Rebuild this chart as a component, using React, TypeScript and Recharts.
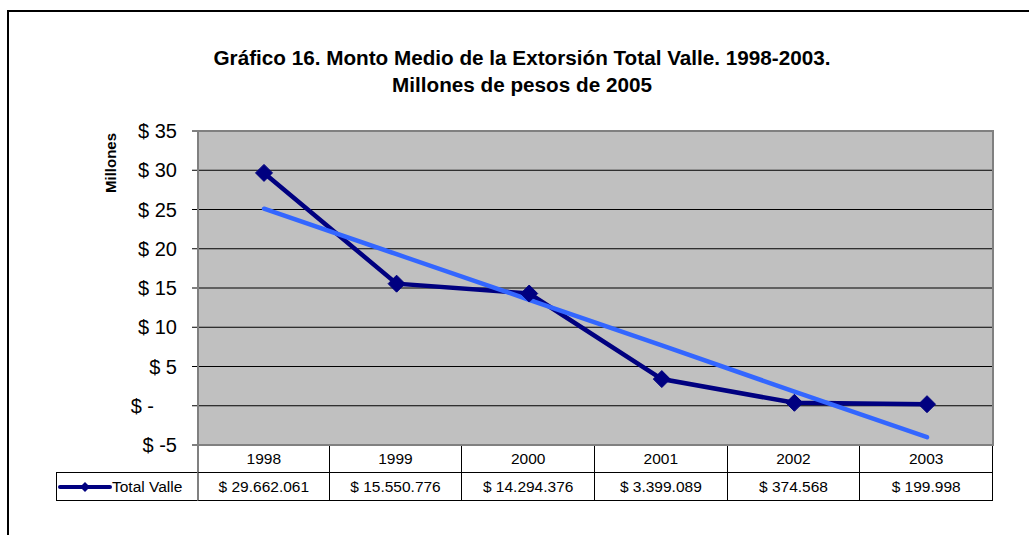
import { CartesianGrid, Line, LineChart, XAxis, YAxis } from "recharts";

const FONT = "Arial, 'Liberation Sans', Helvetica, sans-serif";

const years = ["1998", "1999", "2000", "2001", "2002", "2003"];
const totalValle = [29.662061, 15.550776, 14.294376, 3.399089, 0.374568, 0.199998];
const trendValle = [25.1, 19.3, 13.5, 7.7, 1.8, -4.0];
const tableValues = ["$ 29.662.061", "$ 15.550.776", "$ 14.294.376", "$ 3.399.089", "$ 374.568", "$ 199.998"];
const yTicks = [-5, 0, 5, 10, 15, 20, 25, 30, 35];

const data = years.map((year, i) => ({ year, total: totalValle[i], trend: trendValle[i] }));

const NAVY = "#000080";
const TREND = "#3366FF";

function Diamond(props: any) {
  const { cx, cy } = props;
  if (cx == null || cy == null) return null;
  const r = 8.5;
  return (
    <polygon
      points={`${cx},${cy - r} ${cx + r},${cy} ${cx},${cy + r} ${cx - r},${cy}`}
      fill={NAVY}
      stroke={NAVY}
      strokeWidth={1}
    />
  );
}

function MoneyTick(props: any) {
  const { x, y, payload } = props;
  const v = payload.value;
  // accounting format: zero shows as a dash padded by two digit widths
  const label = v === 0 ? "$ -" : `$ ${v}`;
  return (
    <text x={v === 0 ? x - 23 : x} y={y} dy={7} textAnchor="end" fontSize={20} fill="#000" fontFamily={FONT}>
      {label}
    </text>
  );
}

const cellBase: React.CSSProperties = {
  boxSizing: "border-box",
  display: "flex",
  alignItems: "center",
  justifyContent: "center",
  fontSize: 15.5,
  color: "#000",
};

function DataTable() {
  return (
    <div
      style={{
        position: "absolute",
        left: 56,
        top: 446,
        width: 937,
        display: "grid",
        gridTemplateColumns: "141px repeat(6, 1fr)",
        gridTemplateRows: "27px 28px",
        fontFamily: FONT,
      }}
    >
      <div />
      {years.map((y, i) => (
        <div
          key={y}
          style={{
            ...cellBase,
            borderBottom: "1px solid #000",
            borderRight: "1px solid #000",
            borderLeft: i === 0 ? "2px solid #808080" : undefined,
          }}
        >
          {y}
        </div>
      ))}
      <div
        style={{
          ...cellBase,
          justifyContent: "flex-start",
          borderLeft: "1px solid #000",
          borderBottom: "1px solid #000",
          borderTop: "1px solid #000",
          marginTop: -1,
          paddingLeft: 1,
        }}
      >
        <svg width={54} height={12} style={{ flex: "none" }}>
          <line x1={2} y1={6} x2={52} y2={6} stroke={NAVY} strokeWidth={4} strokeLinecap="round" />
          <polygon points="27,1 32,6 27,11 22,6" fill={NAVY} />
        </svg>
        <span>Total Valle</span>
      </div>
      {tableValues.map((v, i) => (
        <div
          key={v}
          style={{
            ...cellBase,
            borderBottom: "1px solid #000",
            borderRight: "1px solid #000",
            borderLeft: i === 0 ? "2px solid #808080" : undefined,
          }}
        >
          {v}
        </div>
      ))}
    </div>
  );
}

export default function App() {
  return (
    <div
      style={{
        position: "fixed",
        left: 0,
        top: 0,
        width: 1029,
        height: 535,
        overflow: "hidden",
        background: "#fff",
        fontFamily: FONT,
      }}
    >
      <div
        style={{
          position: "absolute",
          left: 7,
          top: 10,
          width: 1100,
          height: 600,
          border: "2px solid #000",
          boxSizing: "border-box",
        }}
      />
      <div style={{ position: "absolute", left: 0, top: 0 }}>
        <LineChart width={1029} height={535} data={data} margin={{ top: 131, right: 36, bottom: 90, left: 0 }}>
          <CartesianGrid vertical={false} stroke="#000" strokeOpacity={1} fill="#C0C0C0" fillOpacity={1} />
          <XAxis dataKey="year" hide padding={{ left: 66, right: 66 }} />
          <YAxis
            width={198}
            domain={[-5, 35]}
            ticks={yTicks}
            interval={0}
            axisLine={{ stroke: "#808080", strokeWidth: 2 }}
            tickLine={{ stroke: "#000" }}
            tickSize={6}
            tickMargin={15}
            tick={<MoneyTick />}
          />
          <Line
            dataKey="total"
            stroke={NAVY}
            strokeWidth={4.5}
            dot={<Diamond />}
            activeDot={false}
            isAnimationActive={false}
          />
          <Line
            dataKey="trend"
            stroke={TREND}
            strokeWidth={4.5}
            strokeLinecap="round"
            dot={false}
            activeDot={false}
            isAnimationActive={false}
          />
        </LineChart>
      </div>
      {/* plot-area frame */}
      <div
        style={{
          position: "absolute",
          left: 197,
          top: 130,
          width: 797,
          height: 316,
          border: "2px solid #808080",
          boxSizing: "border-box",
          pointerEvents: "none",
        }}
      />
      <svg width={1029} height={535} style={{ position: "absolute", left: 0, top: 0, pointerEvents: "none" }}>
        <text x={522} y={65} textAnchor="middle" fontSize={20.7} fontWeight="bold" fontFamily={FONT} fill="#000">
          Gráfico 16. Monto Medio de la Extorsión Total Valle. 1998-2003.
        </text>
        <text x={522} y={92} textAnchor="middle" fontSize={20.7} fontWeight="bold" fontFamily={FONT} fill="#000">
          Millones de pesos de 2005
        </text>
        <text
          x={116}
          y={163}
          transform="rotate(-90 116 163)"
          textAnchor="middle"
          fontSize={15}
          fontWeight="bold"
          fontFamily={FONT}
          fill="#000"
        >
          Millones
        </text>
      </svg>
      <DataTable />
    </div>
  );
}
